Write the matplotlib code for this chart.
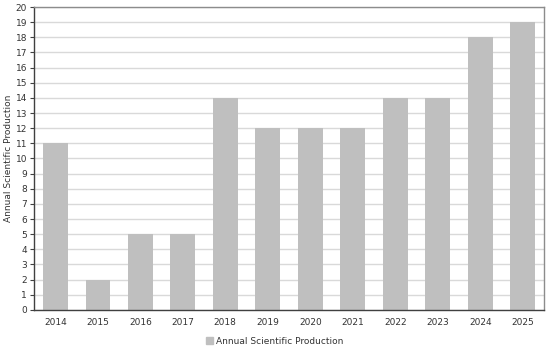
import matplotlib
matplotlib.use("Agg")
import matplotlib.pyplot as plt
from matplotlib.patches import Patch

years = ["2014", "2015", "2016", "2017", "2018", "2019", "2020", "2021", "2022", "2023", "2024", "2025"]
production = [11, 2, 5, 5, 14, 12, 12, 12, 14, 14, 18, 19]
yticks = list(range(0, 21))

plt.rcParams['font.family'] = ['DejaVu Sans']
fig = plt.figure(figsize=(5.5, 3.51), dpi=100)
ax = fig.add_axes([0.062, 0.117, 0.927, 0.863])

x = range(len(years))
ax.bar(x, production, width=0.58, color="#bfbfbf", zorder=2)
ax.set_xlim(-0.5, len(years) - 0.5)
ax.set_ylim(0, 20)
ax.set_yticks(yticks)
ax.set_xticks(list(x))
ax.set_xticklabels(years)
ax.yaxis.grid(True, color="#d9d9d9", linewidth=1.0, zorder=0)
ax.set_axisbelow(True)
ax.tick_params(axis="y", labelsize=6.5, length=3, width=0.8, color="#404040", pad=2, labelcolor="#333333")
ax.tick_params(axis="x", labelsize=6.5, length=0, pad=6, labelcolor="#333333")
for s in ["left", "bottom"]:
    ax.spines[s].set_color("#404040")
    ax.spines[s].set_linewidth(1.0)
for s in ["top", "right"]:
    ax.spines[s].set_color("#8c8c8c")
    ax.spines[s].set_linewidth(1.0)
ax.set_ylabel("Annual Scientific Production", fontsize=6.5, labelpad=2, color="#333333")

fig.legend(handles=[Patch(color="#bfbfbf", label="Annual Scientific Production")],
           loc="center", bbox_to_anchor=(0.5, 0.028), frameon=False, fontsize=6.5,
           handlelength=0.7, handleheight=0.7, handletextpad=0.4, labelcolor="#333333")

fig.savefig("out.png", dpi=100)
